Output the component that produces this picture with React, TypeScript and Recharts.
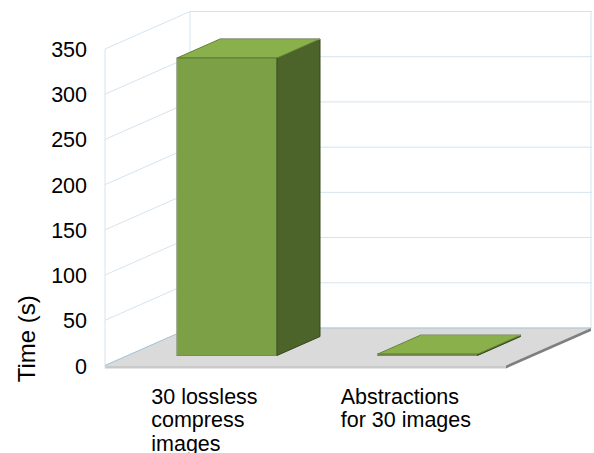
import { Bar, BarChart, CartesianGrid, XAxis, YAxis, usePlotArea } from "recharts";

const categories = ["30 lossless compress images", "Abstractions for 30 images"];
const categoryLines = [
  ["30 lossless", "compress", "images"],
  ["Abstractions", "for 30 images"],
];
const timeSeconds = [329, 1.5];
const yTicks = [0, 50, 100, 150, 200, 250, 300, 350];

const rows = categories.map((name, i) => ({ name, time: timeSeconds[i] }));

const FONT = '"Liberation Sans", Arial, sans-serif';
const WALL_LEFT = 105;
const DEPTH_X = 85;
const DEPTH_Y = -37.5;
const BACK_RIGHT = 592;
const GRID = "#d6e4ef";

// bars sit partway into the floor
const BAR_SHIFT_X = 22;
const BAR_SHIFT_Y = -10;
const BAR_DEPTH_X = 43;
const BAR_DEPTH_Y = -19;

// left edge of each multi-line category label, relative to its tick
const labelInset = [-54, -65];

function pts(list: number[][]) {
  return list.map((p) => p.join(",")).join(" ");
}

// floor slab and the outer edges of the back wall
function Floor() {
  const area = usePlotArea();
  if (!area) return null;
  const front = area.y + area.height;
  const back = front + DEPTH_Y;
  const left = area.x;
  const right = area.x + area.width;
  return (
    <g>
      <polygon
        points={pts([[left, front], [right, front], [right + DEPTH_X, back], [left + DEPTH_X, back]])}
        fill="#dadada"
      />
      <polygon
        points={pts([[left, front], [right, front], [right, front + 3], [left, front + 3]])}
        fill="#c9c9c9"
      />
      <polygon
        points={pts([[right, front], [right + DEPTH_X, back], [right + DEPTH_X, back + 3], [right, front + 3]])}
        fill="#7f7f7f"
      />
      <line x1={left} y1={area.y} x2={left} y2={front + 3} stroke={GRID} strokeWidth={1} />
      <line x1={left + DEPTH_X} y1={area.y + DEPTH_Y} x2={left + DEPTH_X} y2={back} stroke={GRID} strokeWidth={1} />
      <line x1={right + DEPTH_X} y1={area.y + DEPTH_Y} x2={right + DEPTH_X} y2={back} stroke={GRID} strokeWidth={1} />
      <line x1={left} y1={front} x2={left + DEPTH_X} y2={back} stroke="#a5c4d8" strokeWidth={1} />
      <line x1={left + DEPTH_X} y1={back} x2={right + DEPTH_X} y2={back} stroke="#a5c4d8" strokeWidth={1} />
    </g>
  );
}

// one gridline folded along the side wall and across the back wall
function WallLine(props: any) {
  const y = props.y1;
  const backY = y + DEPTH_Y;
  return (
    <polyline
      points={pts([[WALL_LEFT, y], [WALL_LEFT + DEPTH_X, backY], [BACK_RIGHT, backY]])}
      fill="none"
      stroke={GRID}
      strokeWidth={1}
    />
  );
}

function ValueTick(props: any) {
  const { y, payload } = props;
  return (
    <text x={87} y={y + 8} textAnchor="end" fontFamily={FONT} fontSize={21.5} fill="#000">
      {payload.value}
    </text>
  );
}

function CategoryTick(props: any) {
  const { x, index } = props;
  const lines = categoryLines[index] ?? [];
  return (
    <text fontFamily={FONT} fontSize={21.5} fill="#000">
      {lines.map((line, i) => (
        <tspan key={line} x={x + labelInset[index]} y={403.5 + i * 23.5}>
          {line}
        </tspan>
      ))}
    </text>
  );
}

function Cuboid(props: any) {
  const { x, y, width, height } = props;
  const left = x + BAR_SHIFT_X;
  const right = left + width;
  const top = y + BAR_SHIFT_Y;
  const bottom = top + height;
  const dx = BAR_DEPTH_X;
  const dy = BAR_DEPTH_Y;
  return (
    <g>
      <polygon
        points={pts([[right, top], [right + dx, top + dy], [right + dx, bottom + dy], [right, bottom]])}
        fill="#4c632a"
        stroke="#35481b"
        strokeWidth={1}
      />
      <polygon
        points={pts([[left, top], [left + dx, top + dy], [right + dx, top + dy], [right, top]])}
        fill="#89b04b"
        stroke="#66833a"
        strokeWidth={1}
      />
      <line x1={left + dx} y1={top + dy} x2={right + dx} y2={top + dy} stroke="#9a9f94" strokeWidth={1} />
      <rect x={left} y={top} width={width} height={height} fill="#7ba046" stroke="#5f7a38" strokeWidth={1} />
      <line x1={left} y1={top} x2={left} y2={bottom} stroke="#a3a8a0" strokeWidth={1} />
      <line x1={left} y1={bottom} x2={right} y2={bottom} stroke="#7d8577" strokeWidth={1} />
      <line x1={right} y1={top} x2={right} y2={bottom} stroke="#3a4f1f" strokeWidth={1} />
    </g>
  );
}

export default function App() {
  return (
    <div style={{ position: "absolute", left: 0, top: 0, width: 594, height: 453 }}>
      <BarChart
        width={594}
        height={453}
        data={rows}
        margin={{ top: 49, right: 88, bottom: 0, left: 0 }}
        barSize={100}
      >
        <Floor />
        <CartesianGrid vertical={false} horizontal={WallLine} syncWithTicks />
        <YAxis
          width={105}
          domain={[0, 350]}
          ticks={yTicks}
          interval={0}
          tickLine={false}
          axisLine={false}
          tick={ValueTick}
          label={{
            value: "Time (s)",
            angle: -90,
            position: "insideLeft",
            fontFamily: FONT,
            fontSize: 24,
            fill: "#000",
            dx: 21,
            dy: 175,
          }}
        />
        <XAxis
          dataKey="name"
          height={87.5}
          interval={0}
          tickLine={false}
          axisLine={false}
          tick={CategoryTick}
        />
        <Bar dataKey="time" shape={Cuboid} isAnimationActive={false} />
      </BarChart>
    </div>
  );
}
